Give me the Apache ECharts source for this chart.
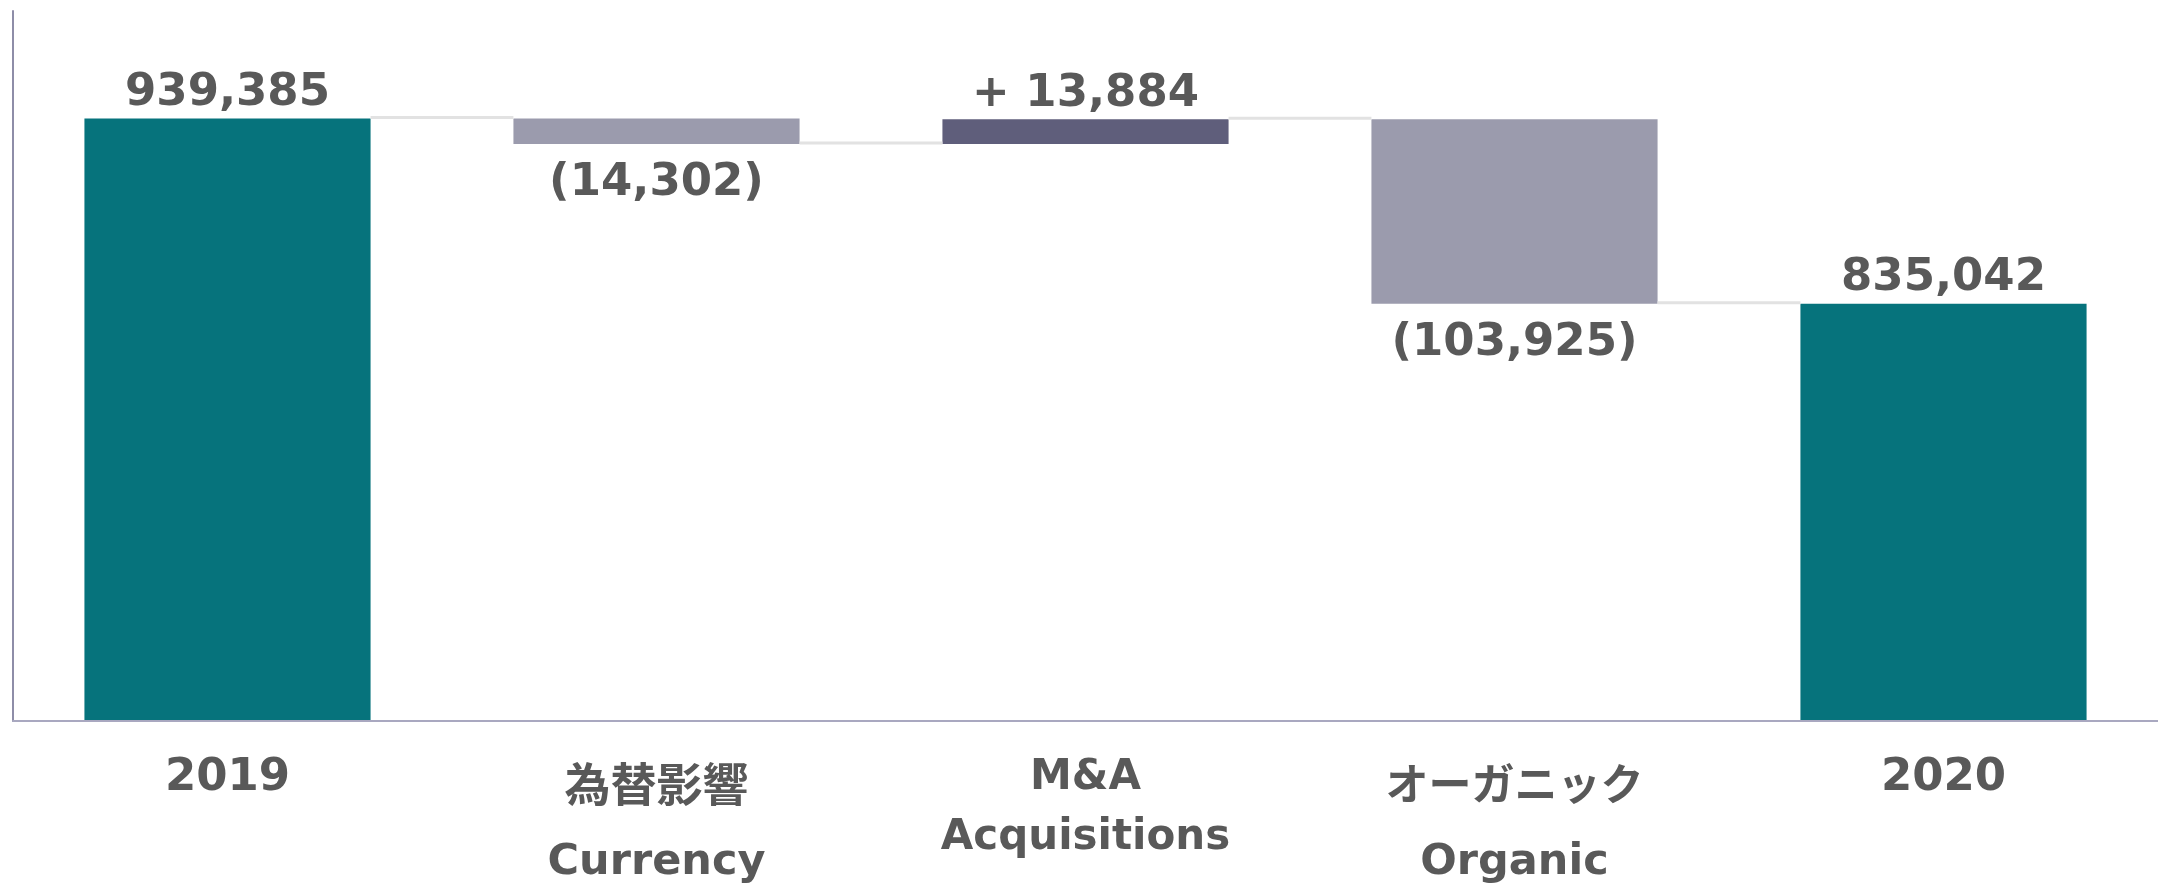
<!DOCTYPE html>
<html>
<head>
<meta charset="utf-8">
<script src="https://cdn.jsdelivr.net/npm/echarts@6/dist/echarts.min.js"></script>
<style>
  html,body{margin:0;padding:0;background:#fff;}
  #chart{width:2158px;height:887px;}
</style>
</head>
<body>
<div id="chart"></div>
<script>
// categories (japanese / english)
var categories = ['2019', '為替影響\nCurrency', 'M&A\nAcquisitions', 'オーガニック\nOrganic', '2020'];
// invisible base of each bar, and visible height
var baseValues = [0, 925083, 925083, 835042, 0];
var barValues = [939385, 14302, 13884, 103925, 835042];
var barLabels = ['939,385', '(14,302)', '+ 13,884', '(103,925)', '835,042'];
var labelPos = ['top', 'bottom', 'top', 'bottom', 'top'];
// running total where the connector lines sit
var connectorLevels = [939385, 925083, 938967, 835042];

var colors = ['#06737C', '#9B9BAD', '#5F5E7B', '#9B9BAD', '#06737C'];
var textColor = '#595959';
var numFont = '"DejaVu Sans", Verdana, sans-serif';
var jpFont = '"Noto Sans CJK JP", sans-serif';

var chart = echarts.init(document.getElementById('chart'));

var visData = barValues.map(function (v, i) {
    return {
        value: v,
        itemStyle: {color: colors[i]},
        label: {
            show: true,
            position: labelPos[i],
            distance: labelPos[i] == 'top' ? 3 : 17,
            formatter: barLabels[i]
        }
    };
});

var connData = connectorLevels.map(function (v, i) { return [i, v]; });

var option = {
    animation: false,
    grid: {left: 13, right: 0, top: 11, bottom: 166},
    xAxis: {
        type: 'category',
        data: categories,
        z: 10,
        axisLine: {lineStyle: {color: '#A9A8C0', width: 2}},
        axisTick: {show: false},
        axisLabel: {
            margin: 27,
            interval: 0,
            formatter: function (val) {
                if (val.indexOf('\n') < 0) return '{num|' + val + '}';
                var parts = val.split('\n');
                if (parts[0] == 'M&A') return '{en|' + parts[0] + '}\n{en|' + parts[1] + '}';
                // kana in the original font is narrower than kanji
                var jpStyle = /^[\u30A0-\u30FF]+$/.test(parts[0]) ? 'kana' : 'jp';
                return '{' + jpStyle + '|' + parts[0] + '}\n{en2|' + parts[1] + '}';
            },
            rich: {
                num: {fontFamily: numFont, fontWeight: 'bold', fontSize: 45, color: textColor, lineHeight: 60},
                en: {fontFamily: numFont, fontWeight: 'bold', fontSize: 42, color: textColor, lineHeight: 60},
                en2: {fontFamily: numFont, fontWeight: 'bold', fontSize: 43, color: textColor, lineHeight: 86},
                jp: {fontFamily: jpFont, fontWeight: 'bold', fontSize: 46, color: textColor, lineHeight: 72},
                kana: {fontFamily: jpFont, fontWeight: 'bold', fontSize: 43, color: textColor, lineHeight: 72}
            }
        }
    },
    yAxis: {
        type: 'value',
        min: 600000,
        max: 1000000,
        axisLine: {show: true, lineStyle: {color: '#8E8DA8', width: 2}},
        axisTick: {show: false},
        axisLabel: {show: false},
        splitLine: {show: false}
    },
    series: [
        {
            type: 'bar',
            stack: 'wf',
            data: baseValues,
            barCategoryGap: '33.3%',
            itemStyle: {color: 'transparent'},
            emphasis: {disabled: true},
            silent: true
        },
        {
            type: 'bar',
            stack: 'wf',
            data: visData,
            barCategoryGap: '33.3%',
            label: {
                fontFamily: numFont,
                fontWeight: 'bold',
                fontSize: 45,
                color: textColor
            }
        },
        {
            type: 'custom',
            data: connData,
            encode: {x: 0, y: 1},
            z: 3,
            renderItem: function (params, api) {
                var i = api.value(0);
                var lvl = api.value(1);
                var p1 = api.coord([i, lvl]);
                var p2 = api.coord([i + 1, lvl]);
                var half = api.size([1, 0])[0] * 0.667 / 2;
                return {
                    type: 'line',
                    shape: {x1: p1[0] + half, y1: p1[1] - 1, x2: p2[0] - half, y2: p2[1] - 1},
                    style: {stroke: '#E2E2E2', lineWidth: 3}
                };
            }
        }
    ]
};

chart.setOption(option);
</script>
</body>
</html>
